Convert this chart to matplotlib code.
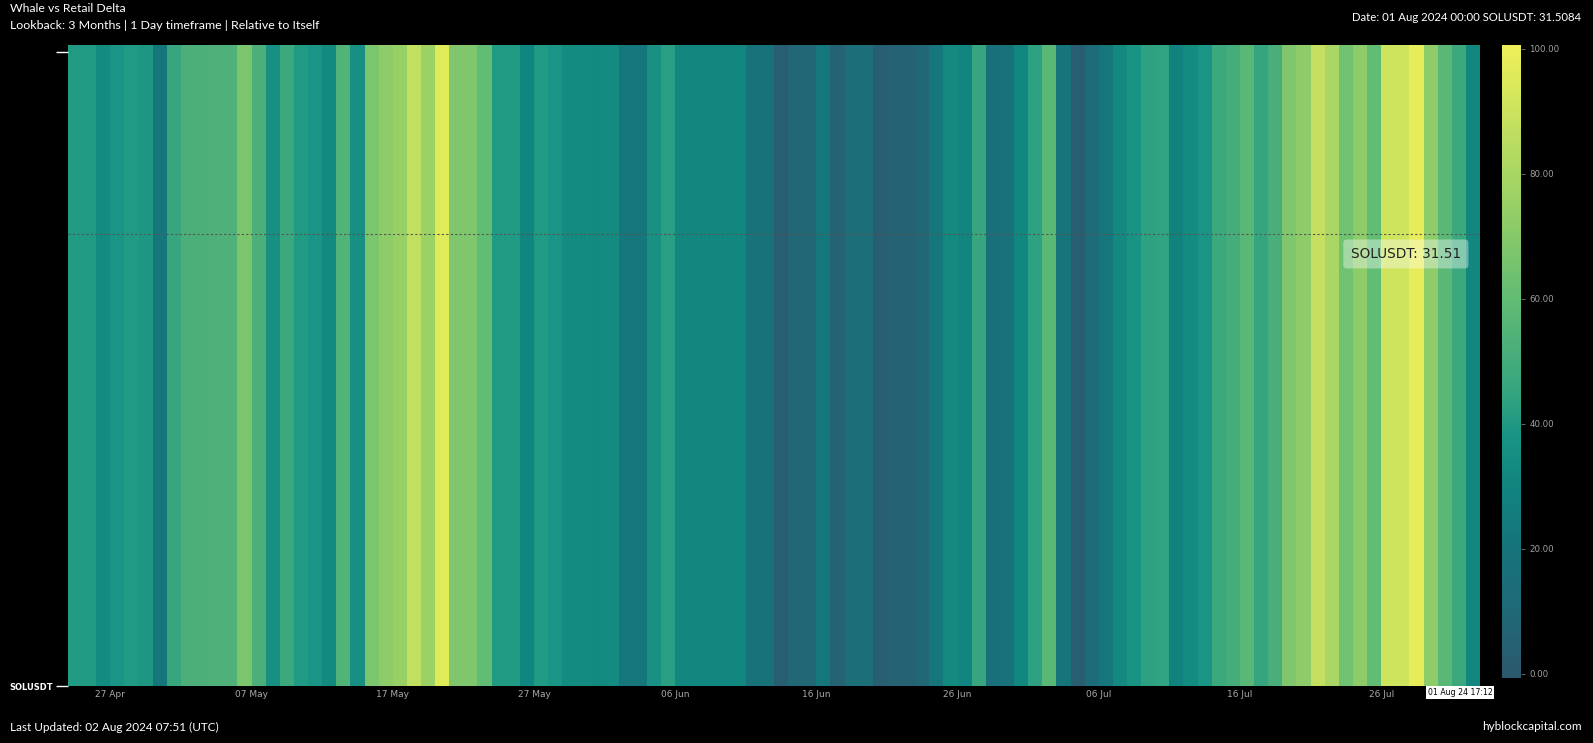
import matplotlib
matplotlib.use('Agg')
import matplotlib.pyplot as plt
import matplotlib.dates as mdates
from matplotlib.colors import LinearSegmentedColormap
import numpy as np
import pandas as pd

# ---------------- data ----------------
start_date = '2024-04-24'
values = [40, 40, 33, 38, 40, 39, 22, 46, 52, 52,
          53, 53, 67, 52, 35, 47, 40, 38, 32, 54,
          35, 67, 72, 75, 87, 76, 96, 68, 68, 60,
          40, 40, 30, 40, 38, 33, 33, 32, 33, 22,
          22, 36, 42, 31, 31, 31, 31, 31, 18, 18,
          3, 8, 8, 22, 6, 14, 14, 3, 5, 5,
          8, 22, 32, 30, 46, 16, 17, 31, 43, 57,
          20, 3, 12, 22, 32, 37, 43, 44, 29, 33,
          38, 47, 50, 57, 45, 51, 68, 72, 88, 80,
          64, 72, 60, 91, 91, 98, 72, 57, 47, 31]
tick_dates = ['2024-04-27', '2024-05-07', '2024-05-17', '2024-05-27', '2024-06-06',
              '2024-06-16', '2024-06-26', '2024-07-06', '2024-07-16', '2024-07-26']
tick_labels = ['27 Apr', '07 May', '17 May', '27 May', '06 Jun',
               '16 Jun', '26 Jun', '06 Jul', '16 Jul', '26 Jul']
cbar_ticks = [0, 20, 40, 60, 80, 100]
row_label = 'SOLUSDT'
crosshair_value = 31.51
crosshair_level = 0.705

# ---------------- colormap ----------------
cmap_stops = [(0.00, '#2b5a6e'), (0.10, '#1f6a78'), (0.20, '#16747b'),
              (0.30, '#11857f'), (0.38, '#1a9585'), (0.45, '#34a57f'),
              (0.52, '#4caf7a'), (0.60, '#62bd74'), (0.68, '#7ec66c'),
              (0.75, '#98d066'), (0.88, '#c4e060'), (0.95, '#dcea5a'),
              (1.00, '#eeee5a')]
cmap = LinearSegmentedColormap.from_list('hyb', cmap_stops)

W, H = 1593, 743
def fx(px):
    return px / W
def fy(py):
    return 1 - py / H

fig = plt.figure(figsize=(W / 100, H / 100), dpi=100, facecolor='black')

# main heatmap
ax = fig.add_axes([fx(68), fy(686), fx(1480) - fx(68), fy(45) - fy(686)])
ax.set_facecolor('black')
edges = mdates.date2num(pd.date_range(start_date, periods=len(values) + 1, freq='D'))
ax.pcolormesh(edges, [0, 1], np.array(values, dtype=float)[None, :],
              cmap=cmap, vmin=0, vmax=100, shading='flat', antialiased=False)
ax.set_xlim(edges[0], edges[-1])
ax.set_ylim(0, 1)
for s in ax.spines.values():
    s.set_visible(False)

ax.set_xticks(mdates.date2num(pd.to_datetime(tick_dates)))
ax.set_xticklabels(tick_labels, color='#a8a8a8', fontsize=6.5,
                   family=['Liberation Sans Narrow', 'DejaVu Sans'])
ax.tick_params(axis='x', length=0, pad=3)
ax.set_yticks([0, 0.989])
ax.set_yticklabels([row_label, ''])
ax.tick_params(axis='y', length=9, width=1, color='white', labelcolor='white',
               labelsize=6, pad=2)
for lab in ax.get_yticklabels():
    lab.set_fontweight('bold')

# crosshair
ax.axhline(crosshair_level, color='#555555', lw=0.8, ls=(0, (2, 2)))
ax.text(0.9475, 0.674, f'{row_label}: {crosshair_value:.2f}', transform=ax.transAxes,
        ha='center', va='center', fontsize=9.8, color='#222222',
        bbox=dict(boxstyle='round,pad=0.55,rounding_size=0.25',
                  fc=(1, 1, 1, 0.38), ec='none'))
fig.text(fx(1460), fy(692.5), '01 Aug 24 17:12', ha='center', va='center',
         fontsize=5.6, color='black', family=['Liberation Sans Narrow', 'DejaVu Sans'],
         bbox=dict(boxstyle='square,pad=0.2', fc='white', ec='none'))

# colorbar
cax = fig.add_axes([fx(1502), fy(678), fx(1521) - fx(1502), fy(45) - fy(678)])
cax.set_facecolor('black')
grad = np.linspace(-0.7, 100.6, 256)[:, None]
cax.imshow(grad, aspect='auto', cmap=cmap, vmin=0, vmax=100,
           extent=[0, 1, -0.7, 100.6], origin='lower')
cax.set_ylim(-0.7, 100.6)
cax.set_xlim(0, 1)
cax.set_xticks([])
cax.yaxis.tick_right()
cax.set_yticks(cbar_ticks)
cax.set_yticklabels([f'{t:.2f}' for t in cbar_ticks])
cax.tick_params(axis='y', length=3, width=0.6, color='#777777',
                labelcolor='#a0a0a0', labelsize=6.2, pad=3)
for s in cax.spines.values():
    s.set_visible(False)

# texts
tfont = ['Lato', 'DejaVu Sans']
fig.text(fx(10), fy(8.5), 'Whale vs Retail Delta', color='white', fontsize=8.8,
         va='center', ha='left', family=tfont)
fig.text(fx(10), fy(25.5), 'Lookback: 3 Months | 1 Day timeframe | Relative to Itself',
         color='white', fontsize=8.9, va='center', ha='left', family=tfont)
fig.text(fx(1581), fy(17.5), 'Date: 01 Aug 2024 00:00 SOLUSDT: 31.5084', color='white',
         fontsize=8.2, va='center', ha='right', family=tfont)
fig.text(fx(10), fy(727), 'Last Updated: 02 Aug 2024 07:51 (UTC)', color='white',
         fontsize=8.5, va='center', ha='left', family=tfont)
fig.text(fx(1582), fy(727), 'hyblockcapital.com', color='white',
         fontsize=8.5, va='center', ha='right', family=tfont)

fig.savefig('out.png', dpi=100, facecolor='black')
